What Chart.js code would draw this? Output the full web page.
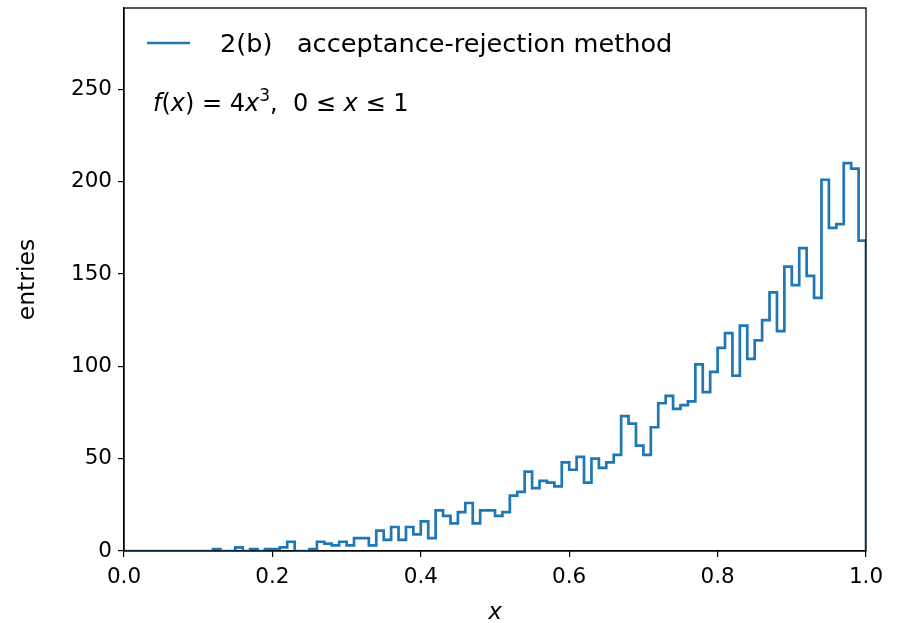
<!DOCTYPE html>
<html><head><meta charset="utf-8">
<script src="https://cdn.jsdelivr.net/npm/chart.js@4/dist/chart.umd.min.js"></script>
<style>html,body{margin:0;padding:0;background:#fff}#w{width:899px;height:623px}</style>
</head><body><div id="w"><canvas id="c" width="899" height="623"></canvas></div>
<script>
// histogram: 100 bins over [0,1]
const binLow = 0.0;
const binWidth = 0.01;
const counts = [
  0,0,0,0,0,0,0,0,0,0,
  0,0,1,0,0,2,0,1,0,1,
  1,2,5,0,0,1,5,4,3,5,
  3,7,7,3,11,6,13,6,13,9,
  16,7,22,19,15,21,26,15,22,22,
  19,21,30,32,43,34,38,37,35,48,
  44,51,37,50,45,48,52,73,69,57,
  52,67,80,84,77,79,81,101,86,97,
  110,118,95,122,104,114,125,140,119,154,
  144,164,149,137,201,175,177,210,207,168
];
const xTicks = [0.0, 0.2, 0.4, 0.6, 0.8, 1.0];
const yTicks = [0, 50, 100, 150, 200, 250];
const seriesLabel = '2(b)   acceptance-rejection method';
const xTitle = 'x';
const yTitle = 'entries';

// bin i spans [binLow + i*w, binLow + (i+1)*w]; point at right edge carries its count
const pts = [{x: binLow, y: 0}];
counts.forEach((c, i) => pts.push({x: binLow + (i + 1) * binWidth, y: c}));
pts.push({x: binLow + counts.length * binWidth, y: 0});

const FONT = 'DejaVu Sans';
const BLUE = '#1f77b4';

const deco = {
  id: 'deco',
  afterDraw(chart) {
    const ctx = chart.ctx, a = chart.chartArea;
    ctx.save();
    ctx.strokeStyle = '#000'; ctx.lineWidth = 1.3;
    ctx.strokeRect(a.left, a.top, a.right - a.left, a.bottom - a.top);
    // legend
    ctx.strokeStyle = BLUE; ctx.lineWidth = 2.6;
    ctx.beginPath(); ctx.moveTo(147, 43); ctx.lineTo(190, 43); ctx.stroke();
    ctx.fillStyle = '#000';
    ctx.font = '25.6px "' + FONT + '"';
    ctx.textBaseline = 'alphabetic'; ctx.textAlign = 'left';
    ctx.fillText(seriesLabel, 220, 52);
    // formula
    const parts = [
      ['f', true, 0], ['(', false, 0], ['x', true, 0], [')', false, 0], [' = ', false, 0], ['4', false, 0],
      ['x', true, 0], ['3', false, 1], [',  0 \u2264 ', false, 0], ['x', true, 0], [' \u2264 1', false, 0]
    ];
    let x = 153; const base = 111;
    for (const [t, it, sup] of parts) {
      ctx.font = (it ? 'italic ' : '') + (sup ? '17px "' : '24px "') + FONT + '"';
      ctx.fillText(t, x, sup ? base - 10 : base);
      x += ctx.measureText(t).width;
    }
    // axis titles
    ctx.font = 'italic 23px "' + FONT + '"';
    ctx.textAlign = 'center';
    ctx.fillText(xTitle, (a.left + a.right) / 2, 619);
    ctx.save();
    ctx.translate(34, (a.top + a.bottom) / 2);
    ctx.rotate(-Math.PI / 2);
    ctx.font = '23.5px "' + FONT + '"';
    ctx.fillText(yTitle, 0, 0);
    ctx.restore();
    ctx.restore();
  }
};

new Chart(document.getElementById('c'), {
  type: 'line',
  data: { datasets: [{
    data: pts, stepped: 'after', borderColor: BLUE, borderWidth: 2.7,
    pointRadius: 0, fill: false, tension: 0
  }]},
  options: {
    responsive: false, animation: false, devicePixelRatio: 1,
    layout: { padding: { left: 0, right: 33, top: 8, bottom: 0 } },
    plugins: { legend: { display: false }, tooltip: { enabled: false } },
    scales: {
      x: {
        type: 'linear', min: 0, max: 1,
        afterBuildTicks: s => { s.ticks = xTicks.map(v => ({value: v})); },
        afterFit: s => { s.height = 72; s.paddingLeft = 0; s.paddingRight = 0; },
        ticks: { color: '#000', font: { family: FONT, size: 21.5 }, padding: 8,
                 maxRotation: 0, callback: v => Number(v).toFixed(1) },
        grid: { display: true, drawOnChartArea: false, drawTicks: true, tickLength: 6, color: '#000', lineWidth: 1.2 },
        border: { display: true, color: '#000', width: 1.3 }
      },
      y: {
        type: 'linear', min: 0, max: 294,
        afterBuildTicks: s => { s.ticks = yTicks.map(v => ({value: v})); },
        afterFit: s => { s.width = 124; s.paddingTop = 0; s.paddingBottom = 0; },
        ticks: { color: '#000', font: { family: FONT, size: 21.5 }, padding: 6 },
        grid: { display: true, drawOnChartArea: false, drawTicks: true, tickLength: 6, color: '#000', lineWidth: 1.2 },
        border: { display: true, color: '#000', width: 1.3 }
      }
    }
  },
  plugins: [deco]
});
</script></body></html>
